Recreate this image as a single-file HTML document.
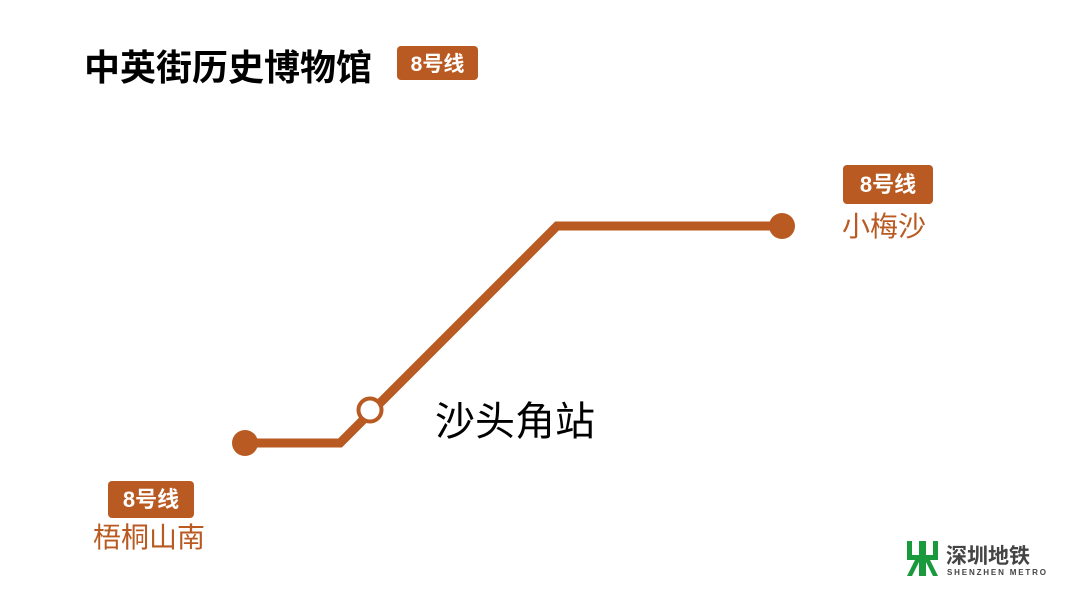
<!DOCTYPE html>
<html><head><meta charset="utf-8"><style>
body{margin:0;width:1080px;height:593px;background:#fff;overflow:hidden;font-family:"Liberation Sans","Noto Sans CJK SC",sans-serif}
</style></head><body>
<svg width="1080" height="593" xmlns="http://www.w3.org/2000/svg" font-family="Liberation Sans, Noto Sans CJK SC, sans-serif">
<text x="84" y="80" font-size="36" font-weight="bold" fill="#000">中英街历史博物馆</text>
<rect x="397" y="46" width="81" height="34" rx="4" fill="#b95a22"/>
<text x="437.5" y="71" font-size="21" font-weight="bold" fill="#fff" text-anchor="middle">8号线</text>

<polyline points="245,443 340,443 557,226 782,226" fill="none" stroke="#b95a22" stroke-width="9" stroke-linejoin="miter"/>
<circle cx="245" cy="443" r="13" fill="#b95a22"/>
<circle cx="782" cy="226" r="13" fill="#b95a22"/>
<circle cx="370" cy="410" r="11.5" fill="#fff" stroke="#b95a22" stroke-width="4"/>

<text x="435" y="435" font-size="40" fill="#000">沙头角站</text>

<rect x="843" y="165" width="90" height="39" rx="4" fill="#b95a22"/>
<text x="888" y="192" font-size="22" font-weight="bold" fill="#fff" text-anchor="middle">8号线</text>
<text x="842" y="236" font-size="28" fill="#b95a22">小梅沙</text>

<rect x="108" y="481" width="86" height="37" rx="4" fill="#b95a22"/>
<text x="151" y="507" font-size="22" font-weight="bold" fill="#fff" text-anchor="middle">8号线</text>
<text x="93" y="547" font-size="28" fill="#b95a22">梧桐山南</text>

<g fill="#1a9a3c">
<rect x="907" y="541" width="5" height="14"/>
<rect x="933" y="541" width="5" height="14"/>
<rect x="919" y="541" width="7" height="35"/>
<rect x="907" y="555" width="31" height="5"/>
<polygon points="907,576 915,560 920,560 912,576"/>
<polygon points="938,576 930,560 925,560 933,576"/>
</g>
<text x="946" y="563" font-size="21" font-weight="bold" fill="#444">深圳地铁</text>
<text x="947" y="575" font-size="8" font-weight="bold" fill="#444" textLength="99">SHENZHEN METRO</text>
</svg>
</body></html>
